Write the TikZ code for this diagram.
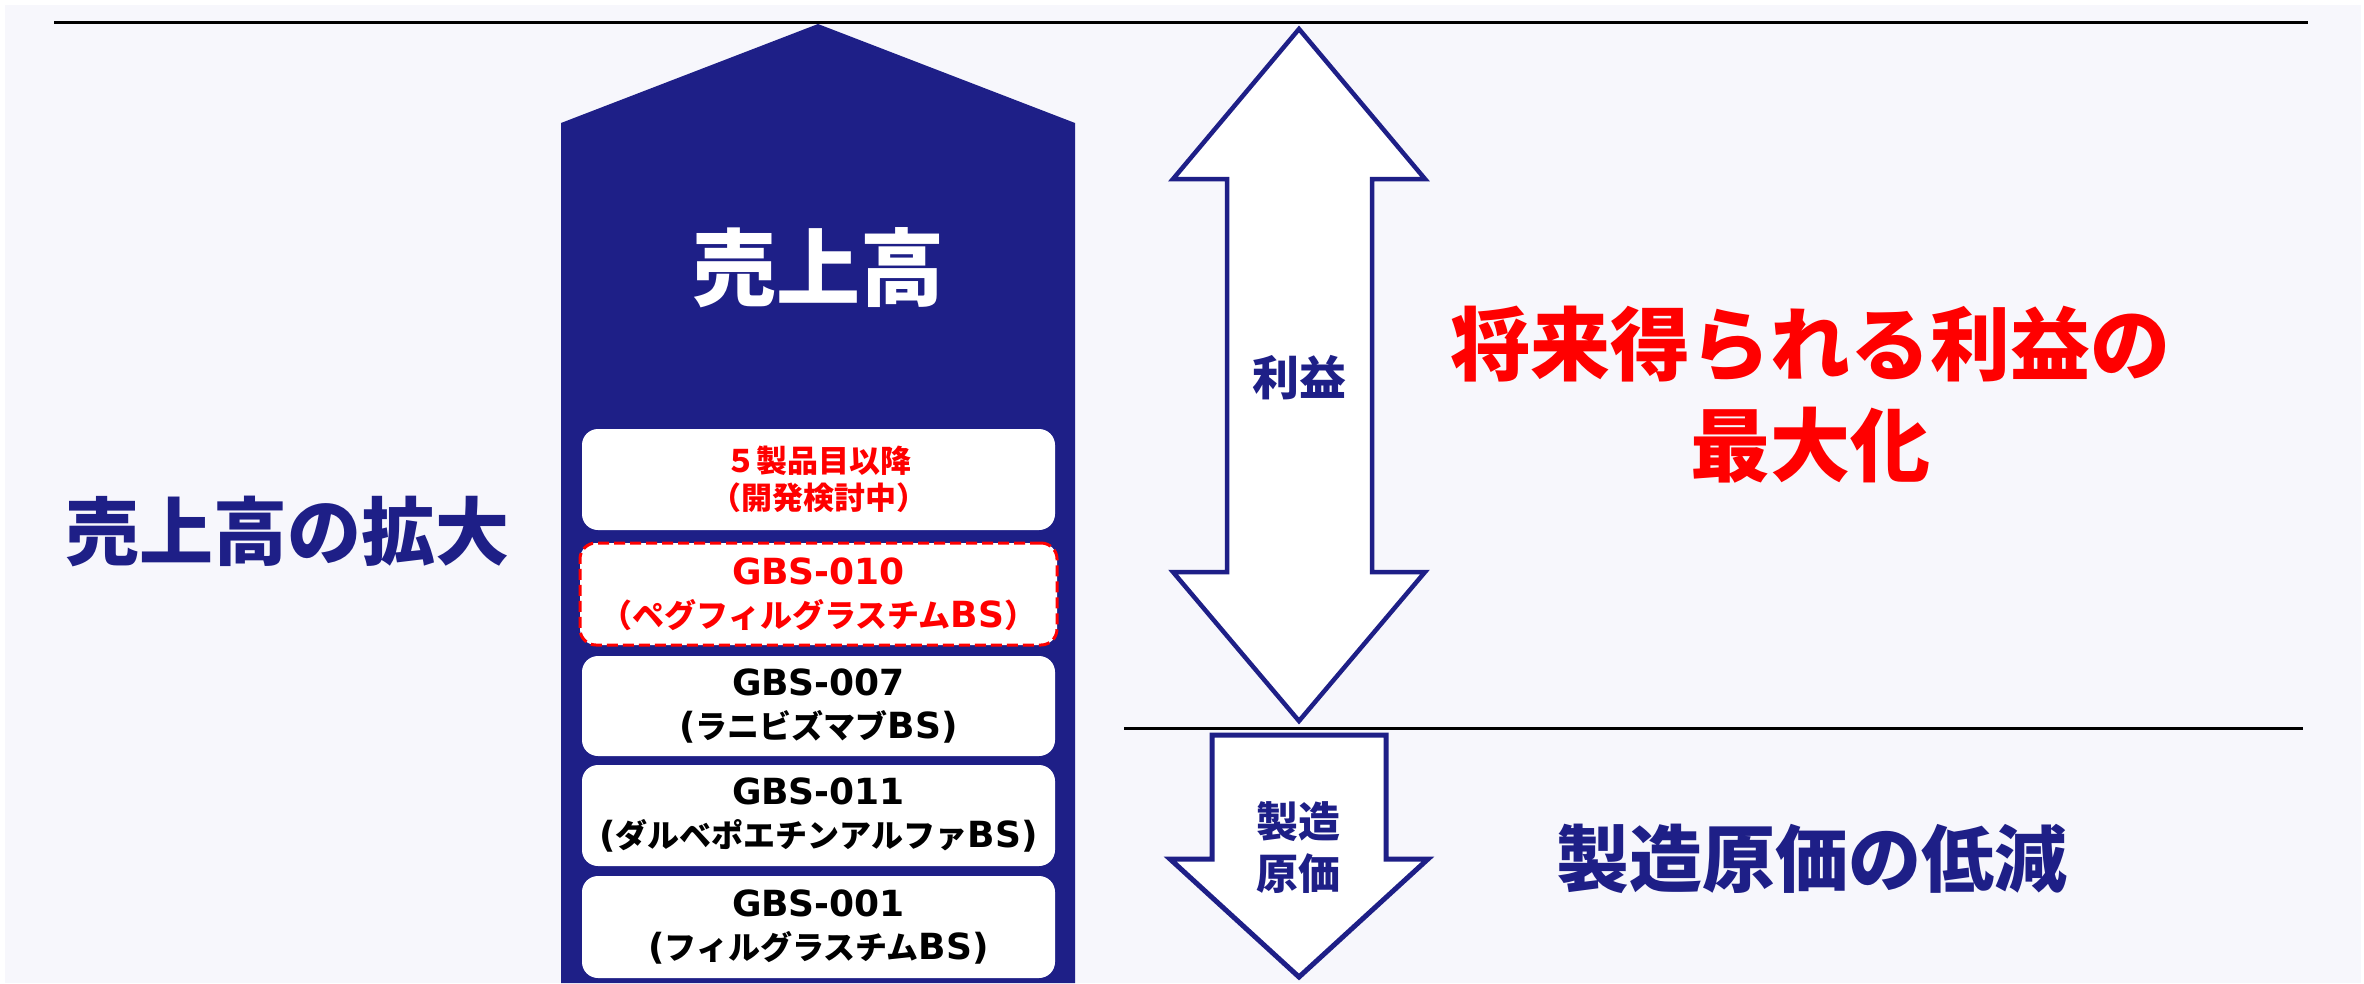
\documentclass[tikz,border=0pt]{standalone}
\usepackage{fontspec}
\newfontfamily\jp{Noto Sans CJK JP}
\newfontfamily\lat{DejaVu Sans}
\definecolor{navy}{RGB}{30,31,135}
\definecolor{bgc}{RGB}{247,247,252}
\definecolor{redc}{RGB}{255,0,0}
\newcommand\Lt[1]{{\lat\bfseries\fontsize{36}{43}\selectfont #1}}
\begin{document}
\begin{tikzpicture}[x=1pt,y=-1pt,
  prodbox/.style={fill=white, rounded corners=16pt, minimum width=473pt, inner sep=0pt, align=center,
    font=\jp\bfseries\fontsize{32}{43}\selectfont, text=black},
  arrowshape/.style={draw=navy, fill=white, line width=4.5pt, line join=miter},
  bigtext/.style={font=\jp\bfseries\fontsize{74}{74}\selectfont, text=navy, inner sep=0pt},
  redtext/.style={font=\jp\bfseries\fontsize{80}{101}\selectfont, text=redc, align=center, inner sep=0pt},
  lbl/.style={font=\jp\bfseries\fontsize{42}{52}\selectfont, text=navy, align=center, inner sep=0pt}]
\useasboundingbox (0,0) rectangle (2364,983);
\fill[white] (0,0) rectangle (2364,983);
\fill[bgc] (5,5) rectangle (2361,983);
% top line
\draw[black, line width=3.5pt] (54,22.5) -- (2308,22.5);
% big sales arrow
\fill[navy] (561,983) -- (561,123) -- (818,24) -- (1075,123) -- (1075,983) -- cycle;
\node[font=\jp\bfseries\fontsize{84}{84}\selectfont, text=white, inner sep=0pt] (sales) at (818,268) {売上高};
% product boxes
\node[prodbox, minimum height=101pt, text=redc, font=\jp\bfseries\fontsize{31}{43}\selectfont] (b1) at (818.5,479.5) {５製品目以降\\[-6pt]（開発検討中）};
\node[prodbox, minimum height=102pt, minimum width=477pt, draw=redc, line width=3pt, dash pattern=on 11pt off 5pt, text=redc] (b2) at (818.5,594) {\Lt{GBS-010}\\（ペグフィルグラスチム\Lt{BS}）};
\node[prodbox, minimum height=100pt] (b3) at (818.5,706) {\Lt{GBS-007}\\\Lt{(}ラニビズマブ\Lt{BS)}};
\node[prodbox, minimum height=101pt] (b4) at (818.5,815.5) {\Lt{GBS-011}\\\Lt{(}ダルベポエチンアルファ\Lt{BS)}};
\node[prodbox, minimum height=102pt] (b5) at (818.5,927) {\Lt{GBS-001}\\\Lt{(}フィルグラスチム\Lt{BS)}};
% left label
\node[bigtext] (grow) at (287,531) {売上高の拡大};
% double arrow (profit)
\draw[arrowshape] (1299,29) -- (1425,179) -- (1372,179) -- (1372,572) -- (1425,572) -- (1299,721)
  -- (1173,572) -- (1227,572) -- (1227,179) -- (1173,179) -- cycle;
\node[font=\jp\bfseries\fontsize{47}{47}\selectfont, text=navy, inner sep=0pt] (profit) at (1299,378) {利益};
% right red text
\node[redtext] (maxp) at (1810,395) {将来得られる利益の\\最大化};
% middle line
\draw[black, line width=3pt] (1124,728) -- (2303,728);
% down arrow (cost)
\draw[arrowshape, line width=5pt] (1212,735) -- (1386,735) -- (1386,859) -- (1428,859) -- (1299,977)
  -- (1170,859) -- (1212,859) -- cycle;
\node[lbl] (cost) at (1298,848) {製造\\原価};
\node[bigtext, font=\jp\bfseries\fontsize{73}{73}\selectfont] (reduce) at (1812,859) {製造原価の低減};
\end{tikzpicture}
\end{document}
